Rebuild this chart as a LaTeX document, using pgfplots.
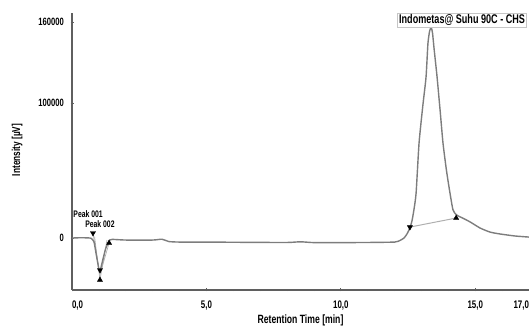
\documentclass[border=0pt]{standalone}
\usepackage{fontspec}
\setmainfont{Liberation Sans}[FakeStretch=0.72]
\usepackage{pgfplots}
\pgfplotsset{compat=1.18}
\definecolor{curve}{RGB}{125,125,125}
\definecolor{axisc}{RGB}{95,95,95}
\definecolor{basec}{RGB}{175,175,175}
\begin{document}
\begin{tikzpicture}[x=1pt,y=1pt]
\path[use as bounding box] (0,0) rectangle (529,328);
\begin{axis}[
  at={(72pt,38pt)}, anchor=south west,
  scale only axis, width=457pt, height=276.75pt,
  xmin=0, xmax=17, ymin=-38500, ymax=166500,
  axis lines=left,
  axis line style={-, draw=axisc, line width=1.1pt},
  clip=false,
  scaled y ticks=false, scaled x ticks=false,
  xtick={0,5,10,15,17},
  xticklabels={{\rlap{0,0}},{5,0},{10,0},{15,0},{\llap{17,0}}},
  minor xtick={1,2,3,4,6,7,8,9,11,12,13,14,16},
  ytick={0,100000,160000},
  yticklabels={0,100000,160000},
  minor ytick={-20000,20000,40000,60000,80000,120000,140000},
  tick align=center,
  major tick length=3pt, minor tick length=2.5pt,
  tick style={draw=axisc, line width=0.7pt},
  xticklabel style={font=\fontsize{11}{12}\selectfont\bfseries, yshift=-6pt},
  yticklabel style={font=\fontsize{10.6}{12}\selectfont\bfseries, xshift=-3pt},
  xlabel={Retention Time [min]},
  ylabel={Intensity [µV]},
  xlabel style={font=\fontsize{12}{13}\selectfont\bfseries, at={(axis description cs:0.5,0)}, anchor=center, yshift=-30pt},
  ylabel style={font=\fontsize{11.5}{13}\selectfont\bfseries, at={(axis description cs:-0.12,0.506)}, anchor=center},
]
% integration baselines
\addplot[basec, line width=0.7pt] coordinates {(0.78,3700) (1.04,-27000) (1.38,-3700)};
\addplot[basec, line width=0.7pt] coordinates {(0.84,1000) (1.04,-31100) (1.30,-1500)};
\addplot[basec, line width=1pt] coordinates {(12.57,8100) (14.29,14800)};
% chromatogram
\addplot[curve, line width=1.4pt, smooth, tension=0.35] coordinates {
(0,0) (0.3,200) (0.6,100) (0.72,-300) (0.82,-3000) (0.9,-12000) (1.0,-23000) (1.04,-25000)
(1.1,-20000) (1.25,-8000) (1.4,-1500) (1.5,-1000) (2.0,-1500) (3.0,-1500) (3.35,-900)
(3.6,-2600) (4.0,-3000) (5,-3000) (6.5,-3200) (8.0,-3300) (8.5,-2800) (9,-3400) (10,-3400)
(11,-3300) (12.0,-3000) (12.2,-1800) (12.35,0) (12.46,3000) (12.57,7400) (12.65,13000)
(12.72,21000) (12.80,33300) (12.91,70400) (13.05,98000) (13.17,119300) (13.24,144000)
(13.30,153000) (13.36,156000) (13.41,152000) (13.47,140000) (13.58,119300) (13.70,93000)
(13.80,70400) (13.93,50000) (14.06,33300) (14.17,21000) (14.28,17500) (14.40,16000)
(14.51,15000) (14.81,11900) (15.18,7400) (15.55,4400) (15.92,3000) (16.48,1500) (17.0,700)};
% peak markers
\addplot[only marks, mark=triangle*, mark size=3pt, mark options={rotate=180, fill=black, draw=black}]
  coordinates {(0.78,3700) (1.04,-23700) (12.57,8100)};
\addplot[only marks, mark=triangle*, mark size=3pt, mark options={fill=black, draw=black}]
  coordinates {(1.38,-3700) (1.04,-31100) (14.29,14800)};
% labels
\node[font=\fontsize{9.5}{10}\selectfont\bfseries, inner sep=0pt] at (axis cs:0.60,18000) {Peak 001};
\node[font=\fontsize{9.5}{10}\selectfont\bfseries, inner sep=0pt] at (axis cs:1.04,10000) {Peak 002};
\node[font=\fontsize{12.6}{13}\selectfont\bfseries, draw=gray!45, line width=0.5pt, inner sep=1.5pt, fill=white] at (axis cs:14.51,161500) {Indometas@ Suhu 90C - CHS};
\end{axis}
\end{tikzpicture}
\end{document}
